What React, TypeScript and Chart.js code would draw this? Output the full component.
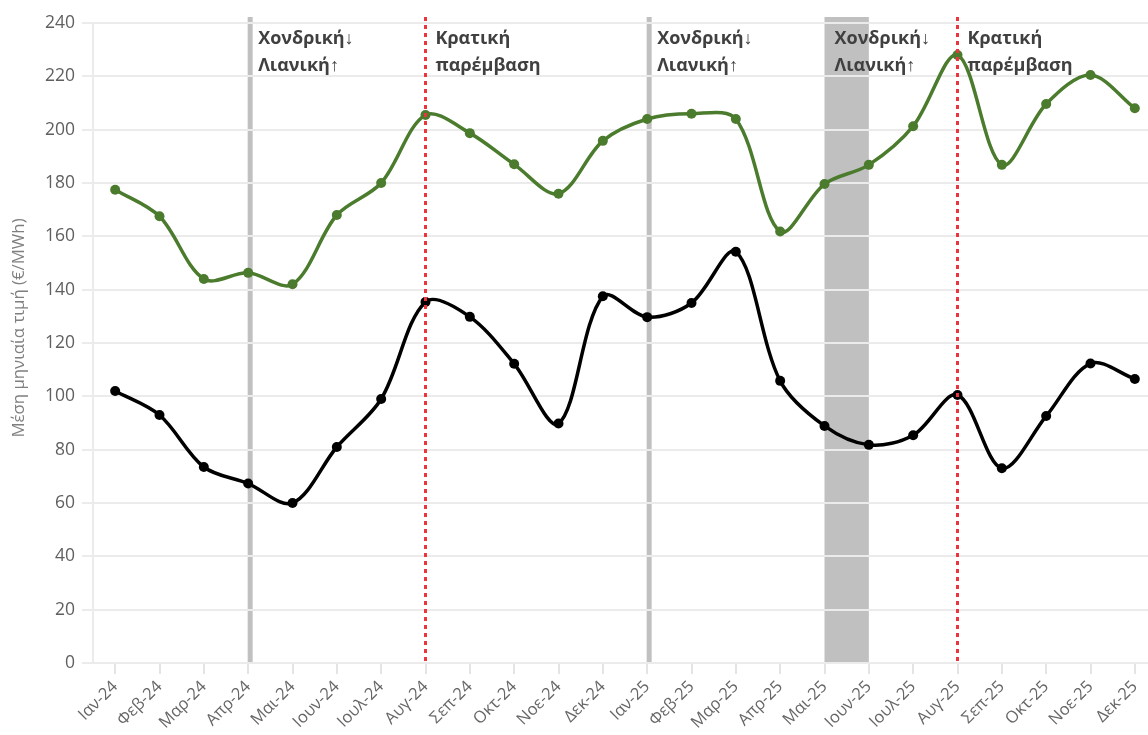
import React, { useEffect, useRef } from 'react';
import { Chart, registerables } from 'chart.js';

Chart.register(...registerables);

const categories = [
  'Ιαν-24', 'Φεβ-24', 'Μαρ-24', 'Απρ-24', 'Μαι-24', 'Ιουν-24', 'Ιουλ-24', 'Αυγ-24',
  'Σεπ-24', 'Οκτ-24', 'Νοε-24', 'Δεκ-24', 'Ιαν-25', 'Φεβ-25', 'Μαρ-25', 'Απρ-25',
  'Μαι-25', 'Ιουν-25', 'Ιουλ-25', 'Αυγ-25', 'Σεπ-25', 'Οκτ-25', 'Νοε-25', 'Δεκ-25',
];

const retailValues = [
  177.5, 167.5, 144, 146.3, 142, 168, 180, 205.5,
  198.7, 187, 176, 195.8, 204, 206, 204, 161.8,
  179.6, 186.8, 201.3, 228, 186.8, 209.6, 220.5, 208,
];

const wholesaleValues = [
  102, 93, 73.5, 67.3, 60, 81, 99, 135.4,
  129.8, 112.2, 89.8, 137.5, 129.7, 135, 154.2, 105.8,
  88.9, 81.8, 85.4, 100.5, 73, 92.6, 112.3, 106.5,
];

const yMin = 0;
const yMax = 240;
const yStep = 20;

const yTitle = 'Μέση μηνιαία τιμή (€/MWh)';

const grayLineAt = ['Απρ-24', 'Ιαν-25'];
const grayBandFrom = 'Μαι-25';
const grayBandTo = 'Ιουν-25';
const redLineAt = ['Αυγ-24', 'Αυγ-25'];

const noteAt = ['Απρ-24', 'Αυγ-24', 'Ιαν-25', 'Μαι-25', 'Αυγ-25'];
const noteLines = [
  ['Χονδρική↓', 'Λιανική↑'],
  ['Κρατική', 'παρέμβαση'],
  ['Χονδρική↓', 'Λιανική↑'],
  ['Χονδρική↓', 'Λιανική↑'],
  ['Κρατική', 'παρέμβαση'],
];

const FONT = "'Open Sans', sans-serif";
const GREEN = '#4b7b2d';
const GRAY_MARK = '#c0c0c0';
const RED = '#e8383d';

const idx = (c: string) => categories.indexOf(c);

const backgroundMarks = {
  id: 'backgroundMarks',
  beforeDraw(chart: any) {
    const { ctx, chartArea, scales } = chart;
    const x = scales.x;
    const top = chartArea.top - 6;
    const bottom = chartArea.bottom;
    ctx.save();
    ctx.fillStyle = GRAY_MARK;
    const b0 = x.getPixelForValue(idx(grayBandFrom));
    const b1 = x.getPixelForValue(idx(grayBandTo));
    ctx.fillRect(b0, top, b1 - b0, bottom - top);
    ctx.strokeStyle = GRAY_MARK;
    ctx.lineWidth = 5;
    grayLineAt.forEach((c) => {
      const px = x.getPixelForValue(idx(c)) + 2;
      ctx.beginPath();
      ctx.moveTo(px, top);
      ctx.lineTo(px, bottom);
      ctx.stroke();
    });
    ctx.restore();
  },
  afterDatasetsDraw(chart: any) {
    const { ctx, chartArea, scales } = chart;
    const x = scales.x;
    const top = chartArea.top - 6;
    const bottom = chartArea.bottom;
    ctx.save();
    ctx.strokeStyle = RED;
    ctx.lineWidth = 3;
    ctx.setLineDash([4, 4]);
    redLineAt.forEach((c) => {
      const px = x.getPixelForValue(idx(c));
      ctx.beginPath();
      ctx.moveTo(px, top);
      ctx.lineTo(px, bottom);
      ctx.stroke();
    });
    ctx.setLineDash([]);
    ctx.fillStyle = '#404040';
    ctx.font = `bold 18px ${FONT}`;
    ctx.textAlign = 'left';
    ctx.textBaseline = 'alphabetic';
    noteAt.forEach((c, i) => {
      const px = x.getPixelForValue(idx(c)) + 10;
      noteLines[i].forEach((t, j) => {
        ctx.fillText(t, px, chartArea.top + 21 + j * 27);
      });
    });
    // y axis title
    ctx.save();
    ctx.translate(19, 328);
    ctx.rotate(-Math.PI / 2);
    ctx.fillStyle = '#7f7f7f';
    ctx.font = `16.8px ${FONT}`;
    ctx.textAlign = 'center';
    ctx.textBaseline = 'middle';
    ctx.fillText(yTitle, 0, 0);
    ctx.restore();
    ctx.restore();
  },
};

export default function App() {
  const ref = useRef<HTMLCanvasElement | null>(null);

  useEffect(() => {
    if (!ref.current) return;
    const chart = new Chart(ref.current, {
      type: 'line',
      data: {
        labels: categories,
        datasets: [
          {
            label: 'Λιανική',
            data: retailValues,
            borderColor: GREEN,
            backgroundColor: GREEN,
            borderWidth: 3.5,
            pointRadius: 5,
            pointBackgroundColor: GREEN,
            pointBorderWidth: 0,
            tension: 0.33,
          },
          {
            label: 'Χονδρική',
            data: wholesaleValues,
            borderColor: '#000000',
            backgroundColor: '#000000',
            borderWidth: 3.5,
            pointRadius: 5,
            pointBackgroundColor: '#000000',
            pointBorderWidth: 0,
            tension: 0.33,
          },
        ],
      },
      options: {
        responsive: false,
        animation: false,
        layout: { padding: { top: 23, left: 0, right: 23, bottom: 0 } },
        plugins: {
          legend: { display: false },
          tooltip: { enabled: false },
        },
        scales: {
          x: {
            type: 'category',
            offset: true,
            grid: {
              display: true,
              drawOnChartArea: false,
              drawTicks: true,
              tickLength: 11,
              color: '#e4e4e4',
              lineWidth: 2,
              offset: false,
            },
            border: { display: true, color: '#ebebeb', width: 2 },
            ticks: {
              autoSkip: false,
              minRotation: 45,
              maxRotation: 45,
              padding: 3,
              color: '#666666',
              font: { family: FONT, size: 16.5 },
            },
            afterFit: (s: any) => {
              s.height = 72;
            },
          },
          y: {
            min: yMin,
            max: yMax,
            grid: {
              color: '#ebebeb',
              lineWidth: 2,
              tickLength: 11,
            },
            border: { display: true, color: '#ebebeb', width: 2 },
            ticks: {
              stepSize: yStep,
              padding: 7,
              color: '#606060',
              font: { family: FONT, size: 17.5 },
            },
            title: { display: false },
            afterFit: (s: any) => {
              s.width = 93;
            },
          },
        },
      },
      plugins: [backgroundMarks],
    });
    return () => chart.destroy();
  }, []);

  return (
    <div
      style={{
        position: 'fixed',
        left: 0,
        top: 0,
        width: 1148,
        height: 735,
        overflow: 'hidden',
        background: '#ffffff',
      }}
    >
      <canvas ref={ref} width={1180} height={735} style={{ display: 'block' }} />
    </div>
  );
}
